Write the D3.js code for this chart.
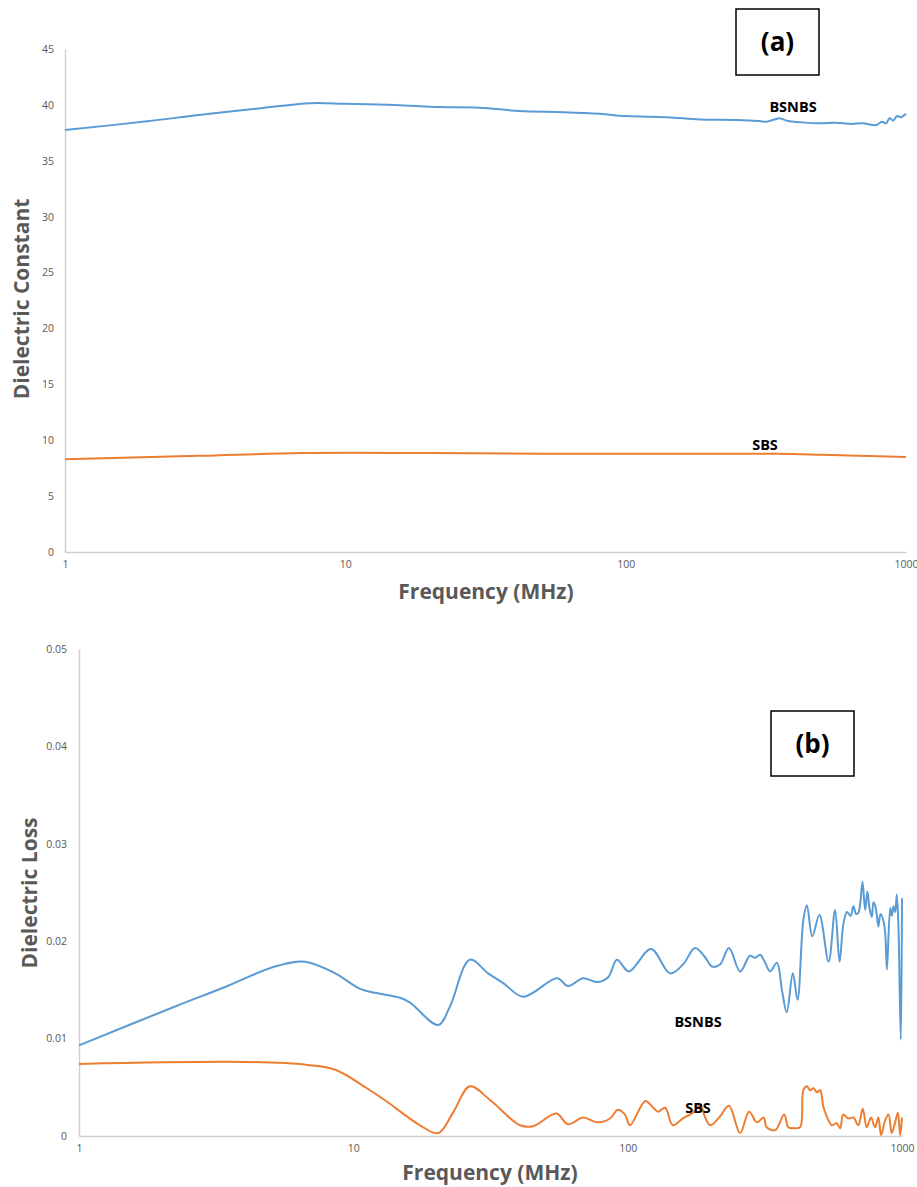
<!DOCTYPE html>
<html>
<head>
<meta charset="utf-8">
<script src="https://cdn.jsdelivr.net/npm/d3@7"></script>
<style>
body{margin:0;background:#fff}
svg text{font-family:"Open Sans",sans-serif}
.tick text{fill:#595959;font-size:10.5px}
.domain{stroke:#d0d0d0;stroke-width:1.5}
.title{fill:#595959;font-weight:bold;font-size:21px}
.lbl{fill:#000;font-weight:bold;font-size:14.5px}
</style>
</head>
<body>
<svg id="chart" width="917" height="1187"></svg>
<script>
// (a) dielectric constant
var constFreqBsnbs = [1,2,3,5,7.5,10,15,21.7,30,41.8,60,81,100,140,184,250,300,318,340,354,380,420,492,560,640,700,785,820,850,873,900,930,960,1000]
var constBsnbs = [37.75,38.55,39.1,39.7,40.15,40.1,40.0,39.8,39.75,39.45,39.35,39.2,39.0,38.9,38.7,38.65,38.55,38.5,38.7,38.8,38.55,38.45,38.35,38.4,38.3,38.35,38.2,38.5,38.35,38.8,38.6,39.0,38.9,39.2]
var constFreqSbs = [1,3,7,20,50,100,200,350,500,1000]
var constSbs = [8.3,8.6,8.85,8.85,8.8,8.8,8.78,8.78,8.7,8.5]

// (b) dielectric loss
var lossFreqBsnbs = [1,2.24,3.41,5.18,6.67,8.58,10.6,12.0,14.8,16.1,20.4,22.5,26.6,31,35.2,41.6,55.3,60.6,68.8,77.3,84.9,91.4,101,121.6,142.8,159,176,191,203,217,234,257,279,291,304,317,331,350,365,380,400,416,437,450,471,500,540,570,592,611,630,650,665,680,693,705,718,734,748,762,776,787,798,810,820,835,857,870,881,906,918,931,945,957,970,990,1000]
var lossBsnbs = [0.0093,0.0133,0.0153,0.0174,0.0179,0.0167,0.0151,0.0147,0.0142,0.0137,0.0114,0.0133,0.0181,0.0167,0.0157,0.0143,0.0162,0.0154,0.0162,0.0158,0.0163,0.0181,0.0169,0.0192,0.0167,0.0176,0.0193,0.0184,0.0174,0.0176,0.0193,0.0169,0.0185,0.0183,0.0186,0.0178,0.0169,0.0178,0.0150,0.0127,0.0167,0.0140,0.0222,0.0237,0.0205,0.0227,0.0179,0.0232,0.0179,0.0217,0.0230,0.0226,0.0236,0.0228,0.0229,0.0240,0.0261,0.0232,0.0251,0.0233,0.0225,0.0240,0.0237,0.0226,0.0215,0.0228,0.0220,0.0205,0.0171,0.0234,0.0226,0.0236,0.0230,0.0248,0.0217,0.0099,0.0244]
var lossFreqSbs = [1,4.1,6.8,8.6,11.2,13,17.5,20.4,23.1,26.6,31.5,40.5,45.2,55,60.6,68.8,77.3,86.3,92,97.8,102,116,124,129,137,146,159,173,184,191,200,217,234,257,277,296,313,321,345,372,385,402,425,437,450,462,476,489,503,517,532,555,578,595,611,637,665,693,719,744,771,797,820,839,868,893,918,944,966,985,1000]
var lossSbs = [0.0074,0.0076,0.0073,0.0068,0.0049,0.0037,0.0011,0.0003,0.0024,0.0051,0.0037,0.0011,0.0010,0.0023,0.0012,0.0019,0.0014,0.0018,0.0027,0.0022,0.0011,0.0036,0.0029,0.0025,0.0029,0.0011,0.0018,0.0024,0.0032,0.0020,0.0011,0.0020,0.0031,0.0003,0.0025,0.0014,0.0019,0.0009,0.0006,0.0022,0.0009,0.0008,0.0009,0.0047,0.0051,0.0047,0.0049,0.0045,0.0047,0.0030,0.0020,0.0011,0.0013,0.0008,0.0022,0.0018,0.0019,0.0011,0.0028,0.0009,0.0019,0.0009,0.0019,0.0001,0.0016,0.0022,0.0003,0.0014,0.0024,0.0001,0.0019]

var xTicks = [1,10,100,1000]
var constTicks = [0,5,10,15,20,25,30,35,40,45]
var lossTicks = [0,0.01,0.02,0.03,0.04,0.05]

var blue = "#5B9BD5", orange = "#ED7D31"
var svg = d3.select("#chart")

function zip(fs,vs){
	return fs.map(function(f,i){return {f:f,v:vs[i]}})
}

function panel(opt){
	var xScale = d3.scaleLog().domain([1,1000]).range([opt.left,opt.right])
	var yScale = d3.scaleLinear().domain([0,opt.yMax]).range([opt.bottom,opt.top])
	var g = svg.append("g")

	var xAxis = d3.axisBottom(xScale).tickValues(xTicks).tickFormat(d3.format("d"))
		.tickSizeInner(0).tickSizeOuter(0).tickPadding(9)
	var yAxis = d3.axisLeft(yScale).tickValues(opt.yTicks).tickFormat(opt.fmt)
		.tickSizeInner(0).tickSizeOuter(0).tickPadding(opt.pad)

	g.append("g").attr("transform","translate(0,"+opt.bottom+")").call(xAxis)
	g.append("g").attr("transform","translate("+opt.left+",0)").call(yAxis)

	var line = d3.line()
		.x(function(d){return xScale(d.f)})
		.y(function(d){return yScale(d.v)})
		.curve(d3.curveCatmullRom.alpha(0.5))

	opt.series.forEach(function(s){
		g.append("path").datum(s.data)
			.attr("fill","none").attr("stroke",s.color).attr("stroke-width",2)
			.attr("stroke-linejoin","round")
			.attr("d",line)
	})

	g.append("text").attr("class","title").attr("text-anchor","middle")
		.attr("x",opt.xtx).attr("y",opt.xty).text("Frequency (MHz)")
	g.append("text").attr("class","title").attr("text-anchor","middle")
		.attr("transform","translate("+opt.ytx+","+opt.yty+") rotate(-90)").text(opt.yTitle)

	opt.labels.forEach(function(l){
		g.append("text").attr("class","lbl").attr("text-anchor","middle")
			.attr("x",l[1]).attr("y",l[2]).text(l[0])
	})

	var b = opt.box
	g.append("rect").attr("x",b[0]).attr("y",b[1]).attr("width",b[2]).attr("height",b[3])
		.attr("fill","#fff").attr("stroke","#000").attr("stroke-width",1.5)
	g.append("text").attr("x",b[0]+b[2]/2).attr("y",b[1]+b[3]/2+9)
		.attr("text-anchor","middle").style("font-weight","bold").style("font-size","26px")
		.text(opt.tag)
}

panel({
	left:65,right:906,top:49,bottom:552,yMax:45,yTicks:constTicks,pad:11,
	fmt:d3.format("d"),
	series:[{data:zip(constFreqBsnbs,constBsnbs),color:blue},{data:zip(constFreqSbs,constSbs),color:orange}],
	xtx:486,xty:599,ytx:29,yty:299,yTitle:"Dielectric Constant",
	labels:[["BSNBS",793,112],["SBS",765,450]],
	box:[736,9,83,66],tag:"(a)"
})

panel({
	left:79,right:902,top:649,bottom:1136,yMax:0.05,yTicks:lossTicks,pad:12,
	fmt:function(d){return d===0?"0":d3.format(".2f")(d)},
	series:[{data:zip(lossFreqBsnbs,lossBsnbs),color:blue},{data:zip(lossFreqSbs,lossSbs),color:orange}],
	xtx:490,xty:1180,ytx:37,yty:893,yTitle:"Dielectric Loss",
	labels:[["BSNBS",698,1027],["SBS",698,1113]],
	box:[771,711,83,65],tag:"(b)"
})
</script>
</body>
</html>
